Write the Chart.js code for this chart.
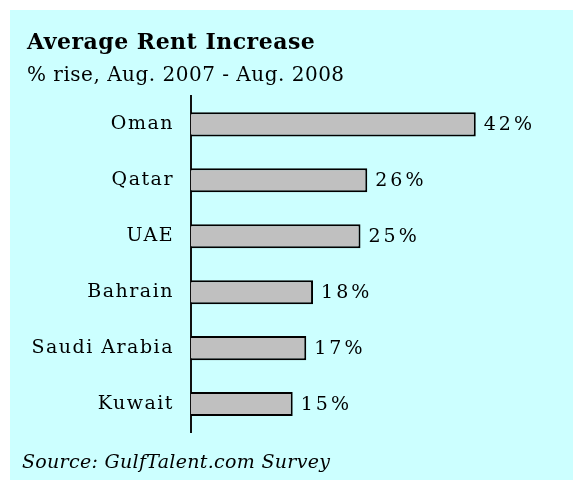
<!DOCTYPE html>
<html>
<head>
<meta charset="utf-8">
<script src="https://cdn.jsdelivr.net/npm/chart.js@4"></script>
<style>
  body { margin: 0; background: #fff; }
  #box { position: absolute; left: 10px; top: 10px; width: 563px; height: 470px; background: #ccffff; }
</style>
</head>
<body>
<div id="box"><canvas id="chart" width="563" height="470"></canvas></div>
<script>
const countries = ['Oman', 'Qatar', 'UAE', 'Bahrain', 'Saudi Arabia', 'Kuwait'];
const rise = [42, 26, 25, 18, 17, 15];
const titleText = 'Average Rent Increase';
const subtitleText = '% rise, Aug. 2007 - Aug. 2008';
const sourceText = 'Source: GulfTalent.com Survey';

const serif = 'DejaVu Serif';

// spacing tweaks: titles drawn before the bars, tick labels after (ticks.z = 1)
const spacing = {
  id: 'spacing',
  beforeDraw(chart) {
    chart.ctx.letterSpacing = '0.5px';
  },
  afterDatasetsDraw(chart) {
    chart.ctx.letterSpacing = '1.5px';
  },
  afterDraw(chart) {
    const ctx = chart.ctx;
    const bars = chart.getDatasetMeta(0).data;
    ctx.save();
    ctx.fillStyle = '#000';
    ctx.letterSpacing = '3px';
    ctx.font = '19px "' + serif + '"';
    ctx.textBaseline = 'middle';
    ctx.textAlign = 'left';
    bars.forEach((bar, i) => {
      ctx.fillText(rise[i] + '%', bar.x + 8, bar.y + 1);
    });
    ctx.letterSpacing = '0.3px';
    ctx.font = 'italic 19px "' + serif + '"';
    ctx.textBaseline = 'alphabetic';
    ctx.fillText(sourceText, 12, 458);
    ctx.restore();
    ctx.letterSpacing = '0px';
  }
};

new Chart(document.getElementById('chart').getContext('2d'), {
  type: 'bar',
  data: {
    labels: countries,
    datasets: [{
      data: rise,
      backgroundColor: '#c0c0c0',
      borderColor: '#000',
      borderWidth: 2,
      categoryPercentage: 1,
      barPercentage: 0.43
    }]
  },
  options: {
    indexAxis: 'y',
    responsive: false,
    animation: false,
    layout: { padding: { left: 17, right: 43, top: 0, bottom: 48 } },
    scales: {
      x: { display: false, min: 0, max: 50 },
      y: {
        grid: { display: false },
        border: { color: '#111', width: 2 },
        ticks: { color: '#000', font: { family: serif, size: 19 }, padding: 9, z: 1 },
        afterFit(scale) { scale.width = 164; }
      }
    },
    plugins: {
      legend: { display: false },
      tooltip: { enabled: false },
      title: {
        display: true,
        text: titleText,
        align: 'start',
        color: '#000',
        font: { family: serif, size: 22, weight: 'bold' },
        padding: { top: 20, bottom: 0 }
      },
      subtitle: {
        display: true,
        text: subtitleText,
        align: 'start',
        color: '#000',
        font: { family: serif, size: 20 },
        padding: { top: 7, bottom: 9 }
      }
    }
  },
  plugins: [spacing]
});
</script>
</body>
</html>
